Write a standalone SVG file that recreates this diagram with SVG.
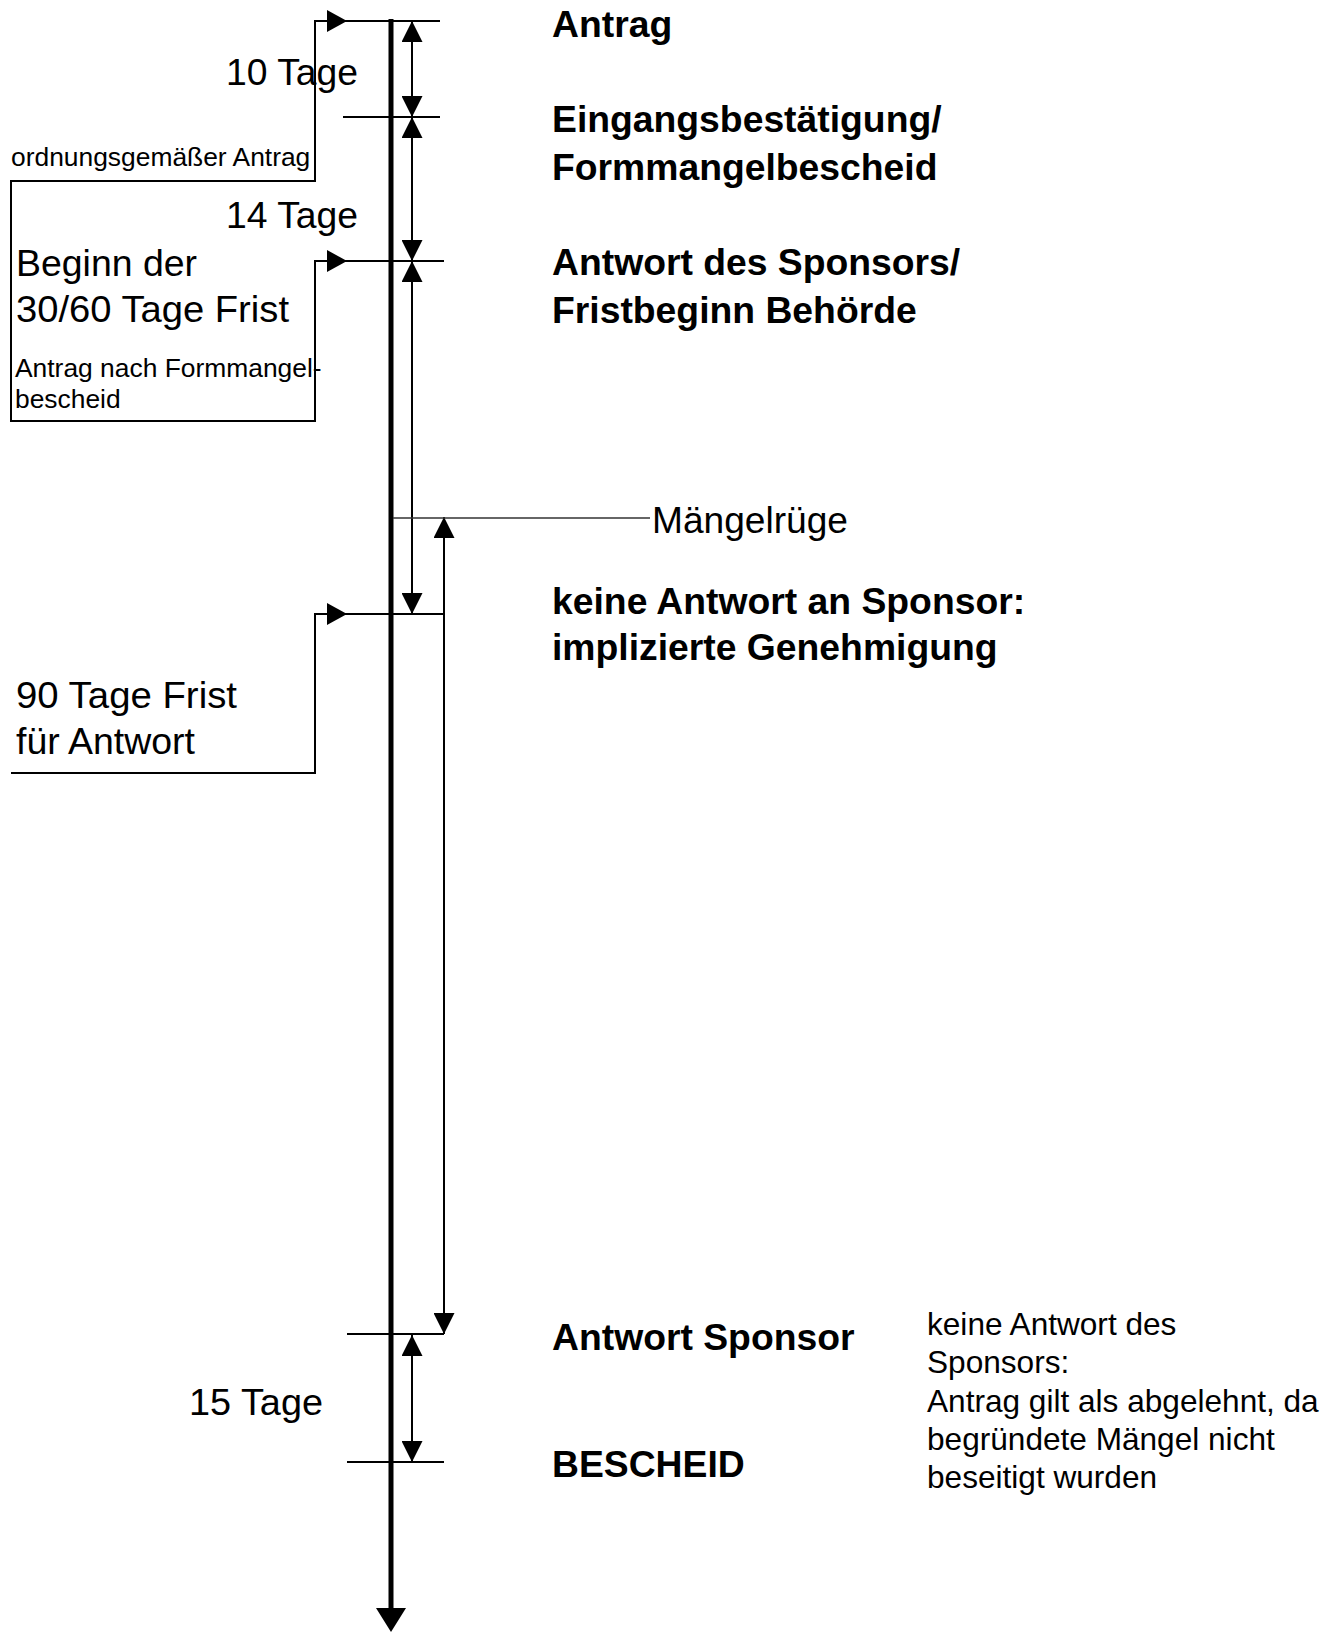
<svg xmlns="http://www.w3.org/2000/svg" width="1340" height="1632" viewBox="0 0 1340 1632">
<style>
text{font-family:"Liberation Sans",Arial,sans-serif;fill:#000}
.b{font-weight:bold;font-size:37.3px}
.r{font-size:37px}
.s{font-size:26.4px}
.n{font-size:31.6px}
.ln{fill:none;stroke:#000;stroke-width:2}
.thin{fill:none;stroke:#333;stroke-width:1.3}
</style>
<defs>
<marker id="dim" viewBox="0 0 21 21" refX="21" refY="10.5" markerWidth="21" markerHeight="21" markerUnits="userSpaceOnUse" orient="auto-start-reverse"><path d="M0,0 L21,10.5 L0,21 z" fill="#000"/></marker>
<marker id="ptr" viewBox="0 0 20 22" refX="20" refY="11" markerWidth="20" markerHeight="22" markerUnits="userSpaceOnUse" orient="auto-start-reverse"><path d="M0,0 L20,11 L0,22 z" fill="#000"/></marker>
<marker id="big" viewBox="0 0 24 30" refX="0" refY="15" markerWidth="24" markerHeight="30" markerUnits="userSpaceOnUse" orient="auto"><path d="M0,0 L24,15 L0,30 z" fill="#000"/></marker>
</defs>

<g id="connectors">
<line x1="391" y1="19" x2="391" y2="1608" stroke="#000" stroke-width="5" marker-end="url(#big)"/>
<line class="ln" x1="347" y1="21" x2="440" y2="21"/>
<line class="ln" x1="343" y1="117" x2="440" y2="117"/>
<line class="ln" x1="347" y1="261" x2="444" y2="261"/>
<line class="ln" x1="347" y1="614" x2="444" y2="614"/>
<line class="ln" x1="347" y1="1334" x2="444" y2="1334"/>
<line class="ln" x1="347" y1="1462" x2="444" y2="1462"/>
<path class="ln" d="M347,21 L315,21 L315,181 L11,181 L11,421 L315,421 L315,261 L347,261" marker-start="url(#ptr)" marker-end="url(#ptr)"/>
<path class="ln" d="M347,614 L315,614 L315,773 L11,773" marker-start="url(#ptr)"/>
<path class="ln" d="M412,21 L412,117" marker-start="url(#dim)" marker-end="url(#dim)"/>
<path class="ln" d="M412,117 L412,261" marker-start="url(#dim)" marker-end="url(#dim)"/>
<path class="ln" d="M412,261 L412,614" marker-start="url(#dim)" marker-end="url(#dim)"/>
<path class="ln" d="M412,1335 L412,1462" marker-start="url(#dim)" marker-end="url(#dim)"/>
<path class="ln" d="M444,517 L444,1334" marker-start="url(#dim)" marker-end="url(#dim)"/>
<line class="thin" x1="393" y1="518" x2="650" y2="518"/>
</g>

<g id="antrag"><text class="b" x="552" y="37">Antrag</text></g>
<g id="eingangsbestaetigung"><text class="b" x="552" y="132">Eingangsbestätigung/</text><text class="b" x="552" y="180">Formmangelbescheid</text></g>
<g id="antwort-des-sponsors"><text class="b" x="552" y="275">Antwort des Sponsors/</text><text class="b" x="552" y="323">Fristbeginn Behörde</text></g>
<g id="maengelruege"><text class="r" x="652" y="533" textLength="196" lengthAdjust="spacingAndGlyphs">Mängelrüge</text></g>
<g id="keine-antwort"><text class="b" x="552" y="614">keine Antwort an Sponsor:</text><text class="b" x="552" y="660">implizierte Genehmigung</text></g>
<g id="antwort-sponsor"><text class="b" x="552" y="1350">Antwort Sponsor</text></g>
<g id="bescheid"><text class="b" x="552" y="1477">BESCHEID</text></g>
<g id="ablehnung">
<text class="n" x="927" y="1335">keine Antwort des</text>
<text class="n" x="927" y="1373">Sponsors:</text>
<text class="n" x="927" y="1412">Antrag gilt als abgelehnt, da</text>
<text class="n" x="927" y="1450">begründete Mängel nicht</text>
<text class="n" x="927" y="1488">beseitigt wurden</text>
</g>
<g id="frist-10"><text class="r" x="226" y="85" textLength="132" lengthAdjust="spacingAndGlyphs">10 Tage</text></g>
<g id="frist-14"><text class="r" x="226" y="228" textLength="132" lengthAdjust="spacingAndGlyphs">14 Tage</text></g>
<g id="frist-15"><text class="r" x="189" y="1415" textLength="134" lengthAdjust="spacingAndGlyphs">15 Tage</text></g>
<g id="ordnungsgemaess"><text class="s" x="11" y="166">ordnungsgemäßer Antrag</text></g>
<g id="beginn-frist"><text class="r" x="16" y="276" textLength="181" lengthAdjust="spacingAndGlyphs">Beginn der</text><text class="r" x="16" y="322" textLength="273" lengthAdjust="spacingAndGlyphs">30/60 Tage Frist</text></g>
<g id="nach-formmangel"><text class="s" x="15" y="377">Antrag nach Formmangel-</text><text class="s" x="15" y="408">bescheid</text></g>
<g id="frist-90"><text class="r" x="16" y="708" textLength="221" lengthAdjust="spacingAndGlyphs">90 Tage Frist</text><text class="r" x="16" y="754" textLength="179" lengthAdjust="spacingAndGlyphs">für Antwort</text></g>
</svg>
